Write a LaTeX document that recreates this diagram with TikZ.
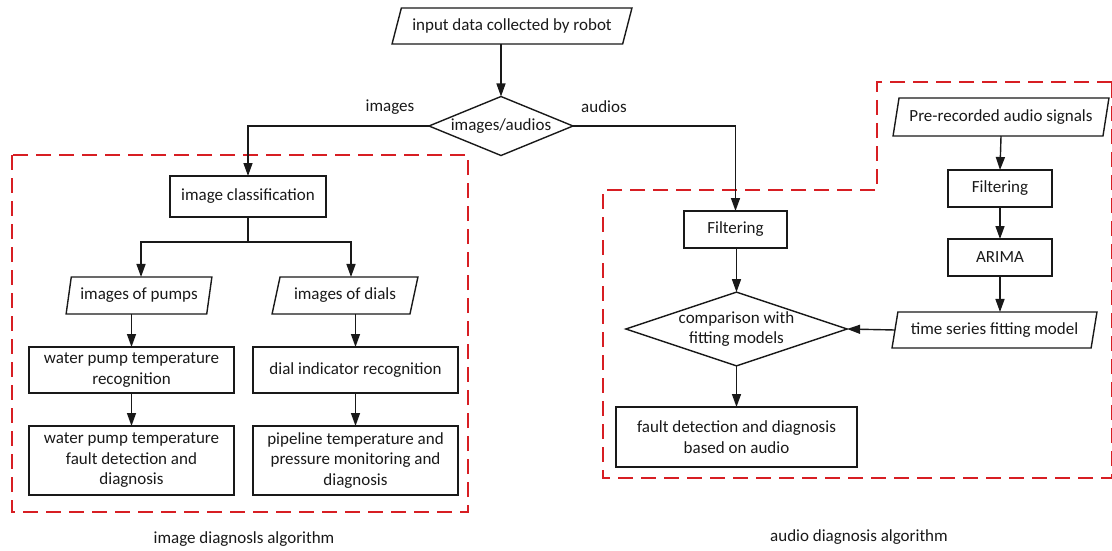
\documentclass[tikz,border=0pt]{standalone}
\usepackage{fontspec}
\setmainfont{Carlito}
\usetikzlibrary{shapes.geometric,arrows.meta}
\definecolor{ink}{RGB}{25,25,25}
\definecolor{groupred}{RGB}{215,30,35}
\tikzset{
  every node/.style={font=\fontsize{17}{20.5}\selectfont, text=ink, inner sep=0pt, outer sep=0pt, align=center},
  procbox/.style={draw=ink, line width=1.4pt, rectangle},
  iobox/.style={draw=ink, line width=1.4pt, trapezium, trapezium stretches=true,
    trapezium left angle=#1, trapezium right angle=180-#1},
  iobox/.default=70,
  decision/.style={draw=ink, line width=1.4pt, diamond, aspect=#1},
  decision/.default=2.5,
  arr/.style={draw=ink, line width=1.4pt, -{Triangle[length=13pt,width=9pt]}},
  link/.style={draw=ink, line width=1.4pt},
  groupframe/.style={draw=groupred, line width=2pt, dash pattern=on 15pt off 8pt},
}
\begin{document}
\begin{tikzpicture}[x=1pt,y=-1pt]
\useasboundingbox (0,0) rectangle (1112,551);

% group frames
\draw[groupframe] (12,155) rectangle (468,512);
\draw[groupframe] (1112,82) -- (877,82) -- (877,190) -- (603,190) -- (603,478) -- (1112,478) -- cycle;

% entry and split
\node[iobox=60, minimum width=240, minimum height=36] (inp) at (512,26) {input data collected by robot};
\node[decision=2.44, minimum width=144, minimum height=59] (dec) at (501,126) {images/audios};
\node (limg) at (390,107) {images};
\node (laud) at (604,107) {audios};

% image branch
\node[procbox, minimum width=156, minimum height=41] (cls) at (248,196.5) {image classification};
\node[iobox=73, minimum width=146, minimum height=37] (pumps) at (139,295.5) {images of pumps};
\node[iobox=67, minimum width=146, minimum height=37] (dials) at (345,295.5) {images of dials};
\node[procbox, minimum width=205, minimum height=46] (wprec) at (131.5,370) {water pump temperature\\recognition};
\node[procbox, minimum width=205, minimum height=46] (dialrec) at (355.5,370) {dial indicator recognition};
\node[procbox, minimum width=205, minimum height=69] (wpfault) at (131.5,460.5) {water pump temperature\\fault detection and\\diagnosis};
\node[procbox, minimum width=205, minimum height=69] (pipe) at (355.5,460.5) {pipeline temperature and\\pressure monitoring and\\diagnosis};
\node (imgcap) at (244,539) {image diagnosls algorithm};

% audio branch
\node[procbox, minimum width=103, minimum height=37] (filt) at (735.5,229.5) {Filtering};
\node[decision=3, minimum width=216, minimum height=72] (cmp) at (736.5,329) {comparison with\\fitting models};
\node[procbox, minimum width=241, minimum height=60] (fault) at (736.5,437) {fault detection and diagnosis\\based on audio};
\node[iobox=70, minimum width=216, minimum height=38] (rec) at (1001,117) {Pre-recorded audio signals};
\node[procbox, minimum width=104, minimum height=37] (filt2) at (1000,188.5) {Filtering};
\node[procbox, minimum width=104, minimum height=37] (arima) at (1000,257.5) {ARIMA};
\node[iobox=71, minimum width=205, minimum height=36] (ts) at (994.5,330) {time series fitting model};
\node (audcap) at (859,537) {audio diagnosis algorithm};

% connectors
\draw[arr] (dec.north |- inp.south) -- (dec.north);
\draw[arr] (dec.west) -| (cls.north);
\draw[arr] (dec.east) -| (filt.north);
\draw[link] (cls.south) -- ++(0,25) coordinate (fork);
\draw[arr] (fork) -| ([xshift=2pt]pumps.north);
\draw[arr] (fork) -| ([xshift=6pt]dials.north);
\draw[arr] (wprec.north |- pumps.south) -- (wprec.north);
\draw[arr] (dialrec.north |- dials.south) -- (dialrec.north);
\draw[arr] (wprec.south) -- (wpfault.north);
\draw[arr] (dialrec.south) -- (pipe.north);
\draw[arr] (cmp.north |- filt.south) -- (cmp.north);
\draw[arr] (cmp.south) -- (fault.north);
\draw[arr] (rec.south) -- (filt2.north);
\draw[arr] (filt2.south) -- (arima.north);
\draw[arr] (arima.south) -- (ts.north -| arima.south);
\draw[arr] (ts.west) -- (cmp.east);
\end{tikzpicture}
\end{document}
